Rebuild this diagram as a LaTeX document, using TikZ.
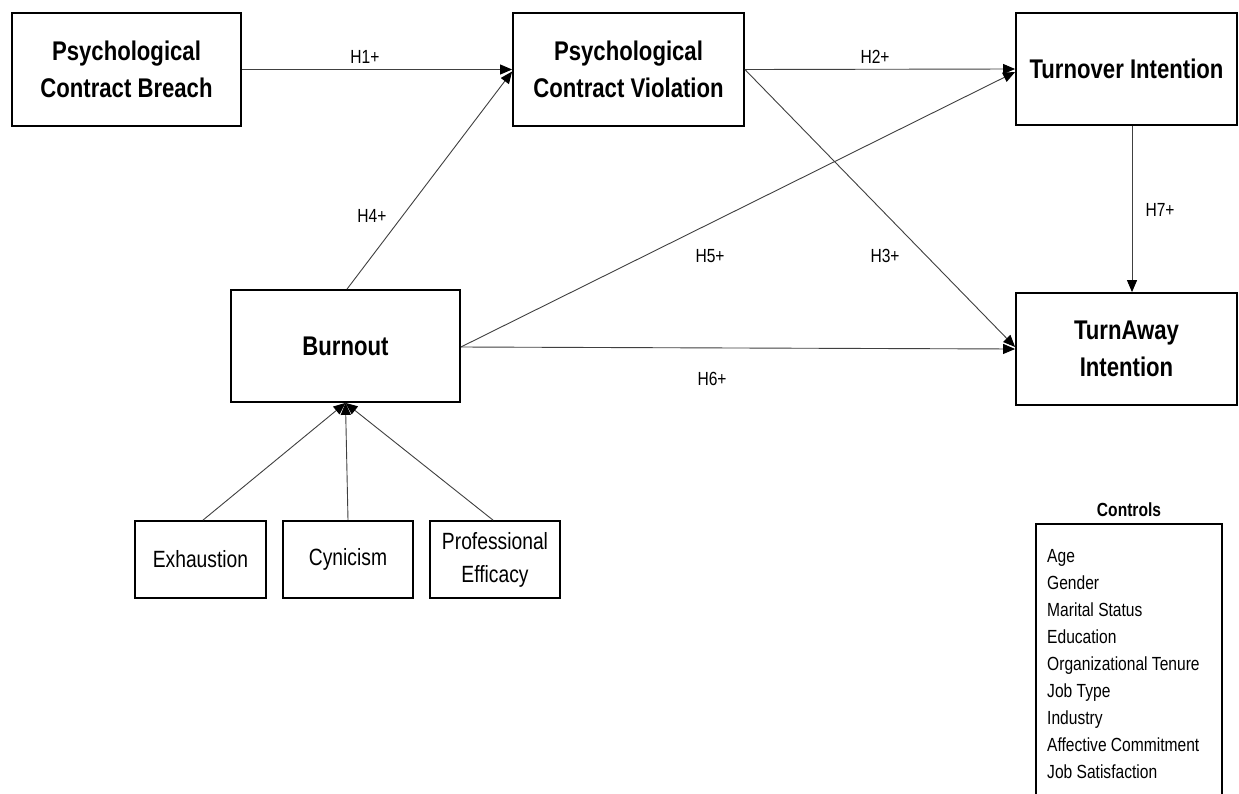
\documentclass[tikz,border=0pt]{standalone}
\usepackage{fontspec}
\setmainfont[FakeStretch=0.82]{Liberation Sans}
\usetikzlibrary{arrows.meta}
\begin{document}
\begin{tikzpicture}[x=1pt,y=-1pt,
  box/.style={draw=black,line width=1.8pt,fill=white,inner sep=0pt,align=center},
  big/.style={font=\fontsize{27}{37}\selectfont\bfseries},
  med/.style={font=\fontsize{23.5}{33}\selectfont},
  lab/.style={font=\fontsize{19}{27}\selectfont,inner sep=0pt},
  conn/.style={draw=black!75,line width=0.9pt,-{Triangle[length=12pt,width=10pt,color=black]}},
]
\useasboundingbox[fill=white] (0,0) rectangle (1239,793);
\clip (0,0) rectangle (1239,793);
% main boxes
\node[box,big,minimum width=229pt,minimum height=113pt] (pcb) at (126.5,69.5) {Psychological\\Contract Breach};
\node[box,big,minimum width=231pt,minimum height=113pt] (pcv) at (628.5,69.5) {Psychological\\Contract Violation};
\node[box,big,minimum width=221pt,minimum height=112pt] (ti) at (1126.5,69) {Turnover Intention};
\node[box,big,minimum width=221pt,minimum height=112pt] (tai) at (1126.5,349) {TurnAway\\Intention};
\node[box,big,minimum width=229pt,minimum height=112pt] (bur) at (345.5,346) {Burnout};
% dimension boxes
\node[box,med,minimum width=131pt,minimum height=77pt] (exh) at (200.5,559.5) {Exhaustion};
\node[box,med,minimum width=130pt,minimum height=77pt] (cyn) at (348,559.5) {Cynicism};
\node[box,med,minimum width=130pt,minimum height=77pt] (pe) at (495,559.5) {Professional\\Efficacy};
% connectors
\draw[conn] (pcb.east) -- (pcv.west);
\draw[conn] (pcv.east) -- (ti.west);
\draw[conn] (pcv.east) -- ([yshift=2pt]tai.west);
\draw[conn] ([xshift=1.5pt]bur.north) -- ([yshift=-2pt]pcv.west);
\draw[conn] ([yshift=-1pt]bur.east) -- ([yshift=-3pt]ti.west);
\draw[conn] ([yshift=-1pt]bur.east) -- (tai.west);
\draw[conn] ([xshift=5.5pt]ti.south) -- ([xshift=5.5pt]tai.north);
\draw[conn] ([xshift=2.5pt]exh.north) -- (bur.south);
\draw[conn] (cyn.north) -- (bur.south);
\draw[conn] ([xshift=-2pt]pe.north) -- (bur.south);
% labels
\node[lab] (h1) at (365,57) {H1+};
\node[lab] (h2) at (875,57) {H2+};
\node[lab] (h3) at (885,256) {H3+};
\node[lab] (h4) at (372,216) {H4+};
\node[lab] (h5) at (710,256) {H5+};
\node[lab] (h6) at (712,379) {H6+};
\node[lab] (h7) at (1160,210) {H7+};
% controls
\node[lab,font=\fontsize{19}{27}\selectfont\bfseries] (ctl) at (1129,510) {Controls};
\node[draw=black,line width=1.5pt,minimum width=186pt,minimum height=286pt,inner sep=0pt] (cbox) at (1129,667) {};
\foreach \t [count=\i from 0] in {Age,Gender,Marital Status,Education,Organizational Tenure,Job Type,Industry,Affective Commitment,Job Satisfaction}
  \node[lab,anchor=base west] (c\i) at (1047,562+27*\i) {\t};
\end{tikzpicture}
\end{document}
